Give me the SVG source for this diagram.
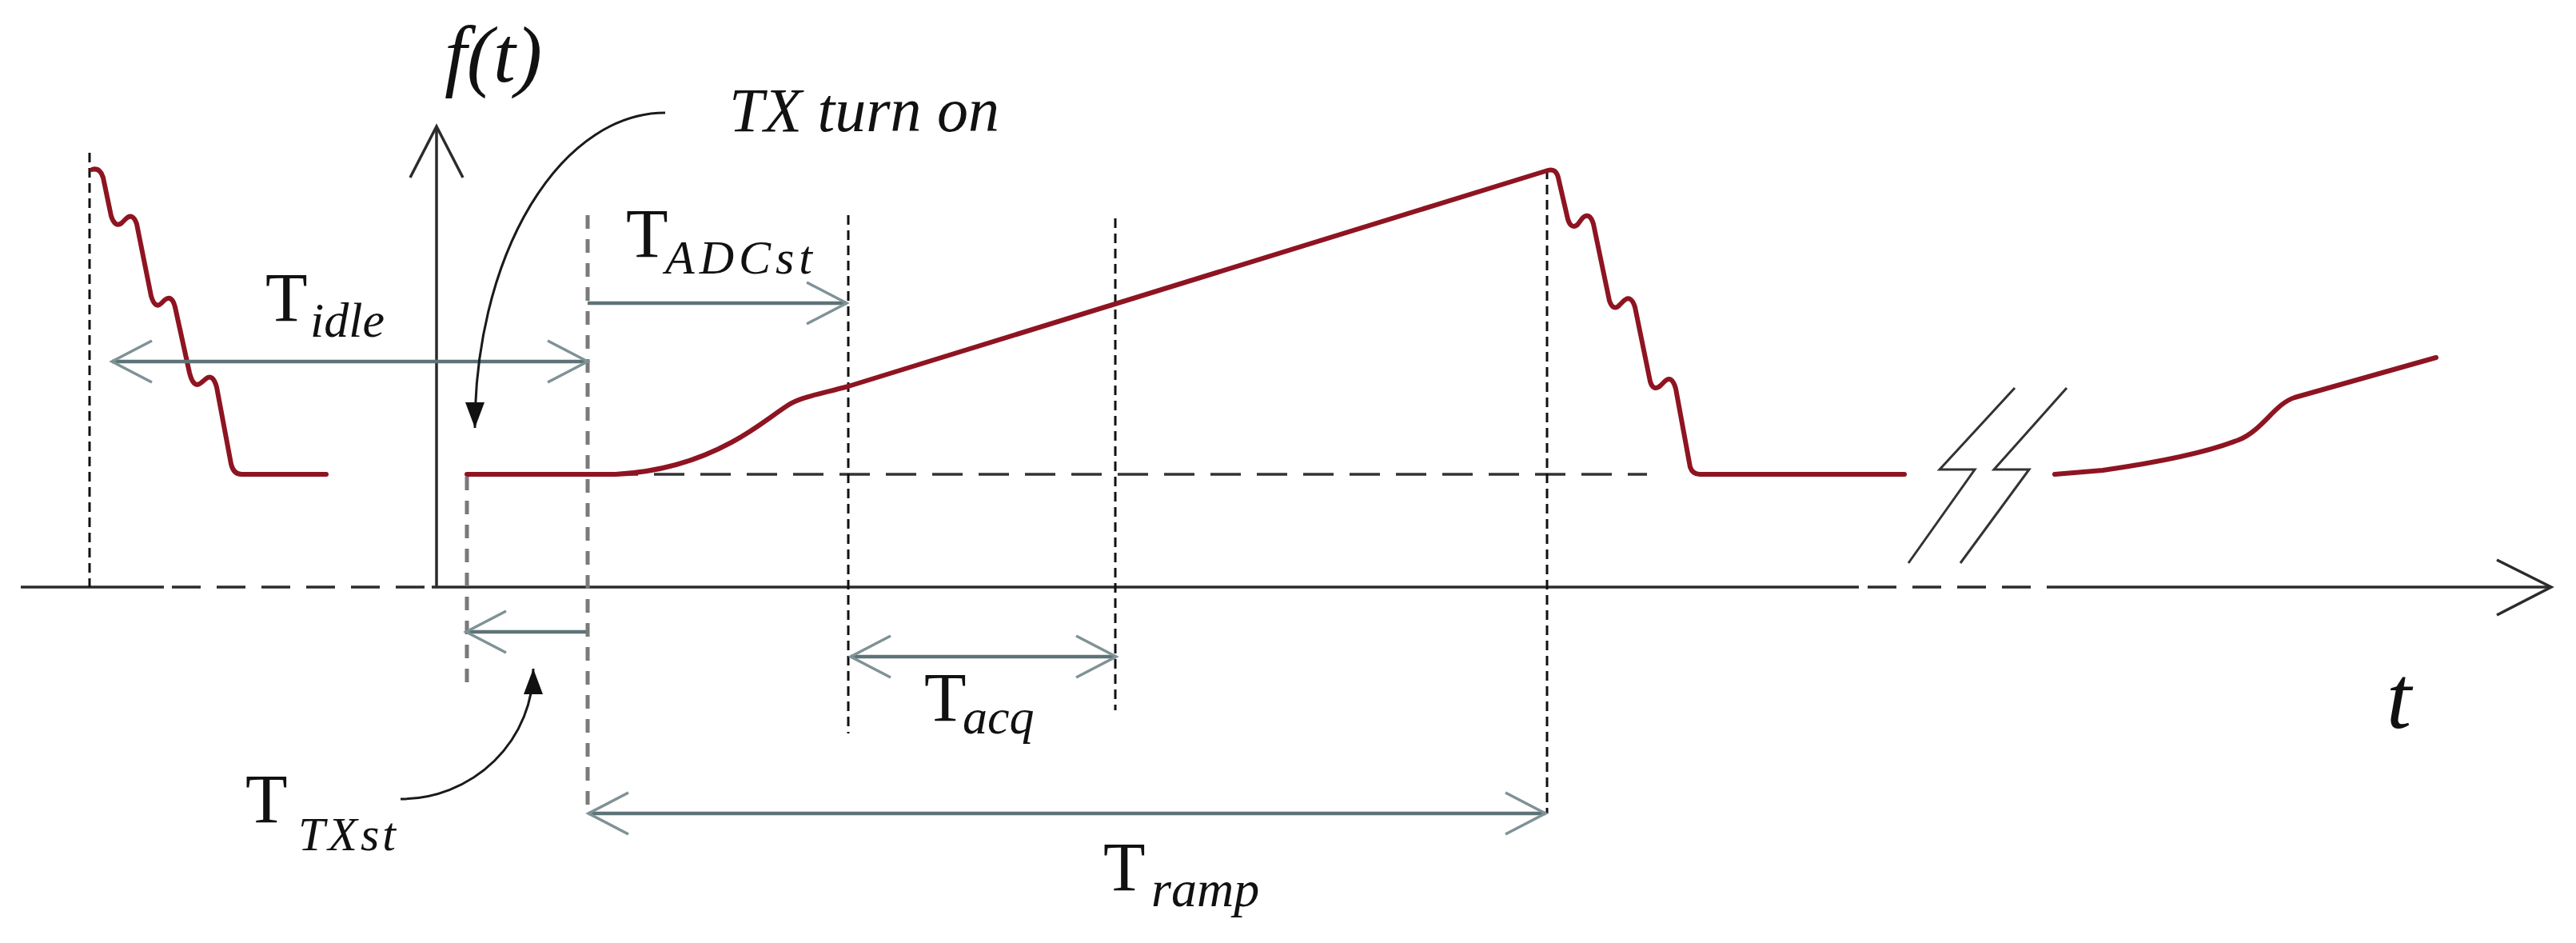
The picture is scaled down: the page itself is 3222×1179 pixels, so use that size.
<svg xmlns="http://www.w3.org/2000/svg" width="3222" height="1179" viewBox="0 0 3222 1179">
<style>
.ax{fill:none;stroke:#2b2b2b;stroke-width:3.5}
.axd{fill:none;stroke:#2b2b2b;stroke-width:3.5;stroke-dasharray:36 20}
.sig{fill:none;stroke:#8e1422;stroke-width:6;stroke-linejoin:round;stroke-linecap:round}
.base{fill:none;stroke:#333;stroke-width:3.5;stroke-dasharray:38 20}
.vd{fill:none;stroke:#111;stroke-width:3;stroke-dasharray:12 7}
.vg{fill:none;stroke:#7a7a7a;stroke-width:5;stroke-dasharray:17 13}
.dim{fill:none;stroke:#5e7378;stroke-width:4.5}
.brk{fill:none;stroke:#333;stroke-width:3}
.cv{fill:none;stroke:#1a1a1a;stroke-width:3}
.tm{font-family:"Liberation Serif",serif;font-size:86px;fill:#111}
.ts{font-family:"Liberation Serif",serif;font-style:italic;fill:#111}
</style>
<defs>
<marker id="chev" markerUnits="userSpaceOnUse" viewBox="-60 -32 64 64" refX="0" refY="0" markerWidth="64" markerHeight="64" orient="auto-start-reverse">
<path d="M-50,-26 L0,0 L-50,26" fill="none" stroke="#7f9296" stroke-width="3.5"/>
</marker>
<marker id="head" markerUnits="userSpaceOnUse" viewBox="-34 -16 36 32" refX="0" refY="0" markerWidth="36" markerHeight="32" orient="auto">
<path d="M0,0 L-32,-12 L-32,12 Z" fill="#111"/>
</marker>
</defs>

<g id="axes">
<path class="ax" d="M26,734 H205"/>
<path class="axd" d="M215,734 H540"/>
<path class="ax" d="M540,734 H2325"/>
<path class="axd" d="M2336,734 H2576"/>
<path class="ax" d="M2576,734 H3191"/>
<path class="ax" d="M3123,700 L3191,734 L3123,769"/>
<path class="ax" d="M546,734 V158"/>
<path class="ax" d="M513,222 L546,158 L579,222"/>
<text class="ts" x="556" y="102" font-size="100">f(t)</text>
<text class="ts" x="2985" y="910" font-size="112">t</text>
</g>

<g id="guides">
<path class="base" d="M760,593 H2060"/>
<path class="vd" d="M112,191 V734"/>
<path class="vd" d="M1061,269 V917"/>
<path class="vd" d="M1395,273 V888"/>
<path class="vd" d="M1935,212 V1017"/>
<path class="vg" d="M584,596 V858"/>
<path class="vg" d="M735,269 V1017"/>
</g>

<g id="signal">
<path class="sig" d="M115,212 Q125,209 129,222 L139,270 Q144,285 152,279 L157,274 Q166,265 171,280 L189,370 Q194,387 202,379 L206,375 Q215,368 219,384 L237,466 Q242,486 251,479 L257,474 Q266,466 271,484 L289,580 Q292,593 302,593 L408,593"/>
<path class="sig" d="M584,593 L770,593 C830,590 880,572 915,553 C945,537 965,520 985,507 C1000,497 1020,494 1061,483 L1936,213 Q1946,210 1949,222 L1961,274 Q1965,287 1973,281 L1979,273 Q1988,264 1993,280 L2013,376 Q2018,390 2026,381 L2031,376 Q2040,368 2045,384 L2064,477 Q2068,490 2077,482 L2082,477 Q2091,468 2096,486 L2114,584 Q2117,593 2126,593 L2382,593"/>
<path class="sig" d="M2570,593 L2630,588 C2700,578 2760,566 2800,550 C2830,538 2845,505 2870,497 L3047,447"/>
</g>

<g id="break">
<path class="brk" d="M2520,485 L2426,587 L2470,587 L2387,704"/>
<path class="brk" d="M2585,485 L2494,587 L2538,587 L2452,704"/>
</g>

<g id="connectors">
<path class="dim" d="M140,452 H735" marker-start="url(#chev)" marker-end="url(#chev)"/>
<path class="dim" d="M735,379 H1059" marker-end="url(#chev)"/>
<path class="dim" d="M733,790 H583" marker-end="url(#chev)"/>
<path class="dim" d="M1064,821 H1396" marker-start="url(#chev)" marker-end="url(#chev)"/>
<path class="dim" d="M736,1017 H1933" marker-start="url(#chev)" marker-end="url(#chev)"/>
<path class="cv" d="M832,141 A238,394 0 0 0 594,535" marker-end="url(#head)"/>
<path class="cv" d="M501,999 A166,163 0 0 0 667,836" marker-end="url(#head)"/>
</g>

<g id="label-idle">
<text class="tm" x="332" y="401">T</text>
<text class="ts" x="388" y="421" font-size="62">idle</text>
</g>
<g id="label-turnon">
<text class="ts" x="912" y="164" font-size="78">TX turn on</text>
</g>
<g id="label-adcst">
<text class="tm" x="783" y="321">T</text>
<text class="ts" x="832" y="342" font-size="60" letter-spacing="6">ADCst</text>
</g>
<g id="label-txst">
<text class="tm" x="307" y="1028">T</text>
<text class="ts" x="373" y="1063" font-size="60" letter-spacing="4">TXst</text>
</g>
<g id="label-acq">
<text class="tm" x="1156" y="901">T</text>
<text class="ts" x="1204" y="917" font-size="62">acq</text>
</g>
<g id="label-ramp">
<text class="tm" x="1380" y="1113">T</text>
<text class="ts" x="1440" y="1133" font-size="64">ramp</text>
</g>
</svg>
